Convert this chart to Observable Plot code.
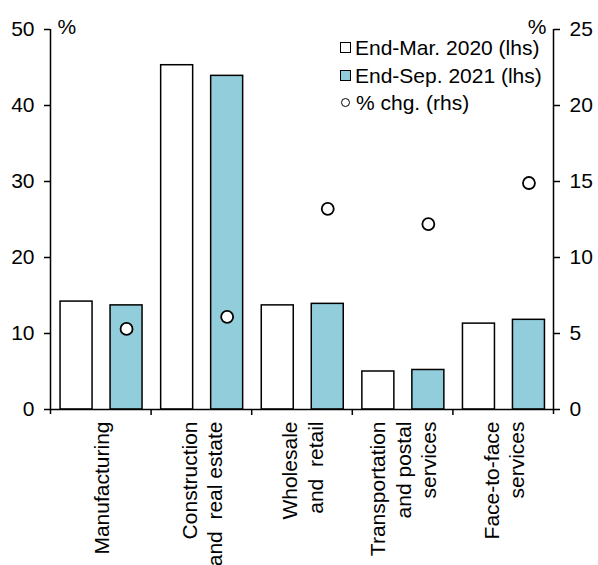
<!DOCTYPE html>
<html>
<head>
<meta charset="utf-8">
<script src="https://cdn.jsdelivr.net/npm/d3@7"></script>
<script src="https://cdn.jsdelivr.net/npm/@observablehq/plot@0.6"></script>
<style>
  html, body { margin: 0; padding: 0; background: #fff; overflow: hidden; }
  #wrap { position: relative; width: 598px; height: 565px; overflow: hidden; font-family: "Liberation Sans", Arial, sans-serif; }
  #legend { position: absolute; left: 340px; top: 34px; font-size: 21px; line-height: 27.5px; color: #000; }
  .item { display: flex; align-items: center; white-space: nowrap; }
  .sw { width: 9px; height: 9px; border: 1.5px solid #000; margin-right: 4px; box-sizing: content-box; }
  .circ { width: 7px; height: 7px; border: 1.5px solid #000; border-radius: 50%; margin: 0 6px 0 1px; background: #fff; }
</style>
</head>
<body>
<div id="wrap">
  <div id="chart"></div>
  <div id="legend"></div>
</div>
<script>
const categories = ["Manufacturing", "Construction\nand  real estate", "Wholesale\nand  retail", "Transportation\nand postal\nservices", "Face-to-face\nservices"];
const seriesNames = ["End-Mar. 2020 (lhs)", "End-Sep. 2021 (lhs)", "% chg. (rhs)"];
const mar2020 = [14.2, 45.3, 13.7, 5.0, 11.3];
const sep2021 = [13.7, 43.9, 13.9, 5.2, 11.8];
const pctChg = [5.3, 6.1, 13.2, 12.2, 14.9];
const lhsTicks = [0, 10, 20, 30, 40, 50];
const rhsTicks = [0, 5, 10, 15, 20, 25];

const blue = "#92cddc";
const rows = categories.map((c, i) => ({cat: c, i, mar: mar2020[i], sep: sep2021[i], chg: pctChg[i]}));
const rhsToLhs = 50 / 25;

const chart = Plot.plot({
  width: 598,
  height: 565,
  marginLeft: 50,
  marginRight: 45,
  marginTop: 29,
  marginBottom: 156,
  x: {domain: [0, 5]},
  y: {domain: [0, 50]},
  style: {fontFamily: "'Liberation Sans', Arial, sans-serif", fontSize: "21px", color: "#000", background: "#fff", overflow: "visible"},
  marks: [
    Plot.rectY(rows, {x1: d => d.i + 0.1, x2: d => d.i + 0.418, y: "mar", fill: "#fff", stroke: "#000", strokeWidth: 1.5}),
    Plot.rectY(rows, {x1: d => d.i + 0.597, x2: d => d.i + 0.915, y: "sep", fill: blue, stroke: "#000", strokeWidth: 1.5}),
    Plot.ruleX([0, 5], {stroke: "#000", strokeWidth: 1.5, insetBottom: -5}),
    Plot.ruleY([0], {stroke: "#000", strokeWidth: 1.5}),
    Plot.axisY({ticks: lhsTicks, tickSize: 6, tickPadding: 10, label: null, strokeWidth: 1.5, fontSize: 21}),
    Plot.axisY({anchor: "right", ticks: rhsTicks.map(t => t * rhsToLhs), tickFormat: d => d / rhsToLhs, tickSize: 6, tickPadding: 10, label: null, strokeWidth: 1.5, fontSize: 21}),
    Plot.axisX({ticks: [1, 2, 3, 4], tickFormat: () => "", tickSize: 6, label: null, strokeWidth: 1.5}),
    Plot.dot(rows, {x: d => d.i + 0.756, y: d => d.chg * rhsToLhs, r: 6, fill: "#fff", stroke: "#000", strokeWidth: 1.8}),
    Plot.text(rows, {x: d => d.i + 0.5, y: 0, text: "cat", rotate: -90, textAnchor: "end", lineAnchor: "middle", lineHeight: 1.2, dy: 12, fontSize: 21}),
    Plot.text(["%"], {frameAnchor: "top-left", dx: 7, dy: -10, fontSize: 21}),
    Plot.text(["%"], {frameAnchor: "top-right", dx: -7, dy: -10, fontSize: 21})
  ]
});
document.getElementById("chart").appendChild(chart);

const legend = document.getElementById("legend");
seriesNames.forEach((name, k) => {
  const item = document.createElement("div");
  item.className = "item";
  const m = document.createElement("span");
  if (k < 2) { m.className = "sw"; m.style.background = k === 0 ? "#fff" : blue; }
  else { m.className = "circ"; }
  item.appendChild(m);
  const t = document.createElement("span");
  t.textContent = name;
  item.appendChild(t);
  legend.appendChild(item);
});
</script>
</body>
</html>
